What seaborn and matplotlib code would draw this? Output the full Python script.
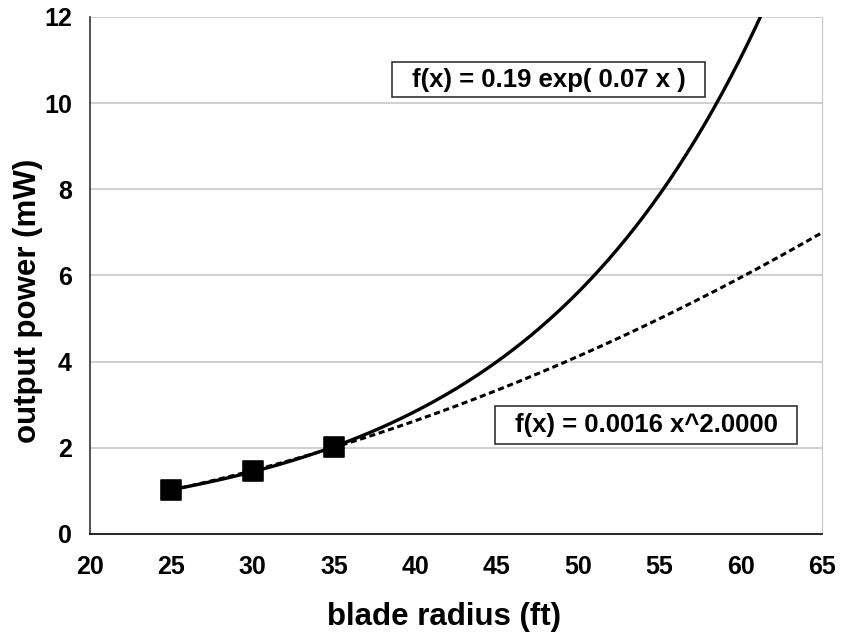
import numpy as np
import pandas as pd
import matplotlib
matplotlib.use("Agg")
import matplotlib.pyplot as plt
from matplotlib.patches import Rectangle
import seaborn as sns

# datos
blade_radius = [25, 30, 35]
output_power = [1.02, 1.47, 2.01]
x_ticks = [20, 25, 30, 35, 40, 45, 50, 55, 60, 65]
y_ticks = [0, 2, 4, 6, 8, 10, 12]
exp_label = "f(x) = 0.19 exp( 0.07 x )"
pow_label = "f(x) = 0.0016 x^2.0000"

sns.set_style("white")
plt.rcParams['font.family'] = ['Liberation Sans', 'DejaVu Sans']
plt.rcParams['font.weight'] = 'bold'
plt.rcParams['text.color'] = 'black'
plt.rcParams['axes.labelcolor'] = 'black'

df = pd.DataFrame({'x': blade_radius, 'y': output_power})

# lineas de tendencia ajustadas a los puntos
b_exp, ln_a = np.polyfit(df['x'], np.log(df['y']), 1)
k_pow, ln_c = np.polyfit(np.log(df['x']), np.log(df['y']), 1)
xs = np.linspace(25, 65, 300)
trend = pd.DataFrame({
    'x': xs,
    'exp': np.exp(ln_a) * np.exp(b_exp * xs),
    'pow': np.exp(ln_c) * xs ** k_pow,
})

fig = plt.figure(figsize=(8.41, 6.36), dpi=100)
ax = fig.add_axes([0.107, 0.1604, 0.8704, 0.8129])

for yv in y_ticks[1:]:
    ax.axhline(yv, color='#c8c8c8', lw=1.2, zorder=0)

sns.lineplot(data=trend, x='x', y='pow', ax=ax, color='black', lw=2.2,
             linestyle=(0, (2, 1.2)), zorder=2)
sns.lineplot(data=trend, x='x', y='exp', ax=ax, color='black', lw=2.4, zorder=3)
sns.scatterplot(data=df, x='x', y='y', ax=ax, marker='s', s=210, color='black',
                edgecolor='black', zorder=4)

ax.set_xlim(20, 65)
ax.set_ylim(0, 12)
ax.set_xticks(x_ticks)
ax.set_yticks(y_ticks)
ax.tick_params(axis='both', labelsize=18, direction='out', length=8, width=1.2,
               color='#333333', labelcolor='black')
ax.tick_params(axis='x', pad=7)
ax.tick_params(axis='y', pad=5)
for lab in ax.get_xticklabels() + ax.get_yticklabels():
    lab.set_fontweight('bold')

ax.set_xlabel("blade radius (ft)", fontsize=22.5, fontweight='bold')
ax.set_ylabel("output power (mW)", fontsize=22.5, fontweight='bold')
ax.xaxis.set_label_coords(0.484, -0.131)
ax.yaxis.set_label_coords(-0.064, 0.45)

ax.spines['top'].set_visible(False)
ax.spines['right'].set_color('#c8c8c8')
ax.spines['left'].set_color('#333333')
ax.spines['bottom'].set_color('black')
ax.spines['left'].set_linewidth(1.2)
ax.spines['bottom'].set_linewidth(1.2)

# cajas de las ecuaciones
ax.add_patch(Rectangle((0.4126, 0.8453), 0.4276, 0.0677, transform=ax.transAxes,
                       facecolor='white', edgecolor='#333333', lw=1.2, zorder=5))
ax.text(0.6264, 0.879, exp_label, transform=ax.transAxes, ha='center', va='center',
        fontsize=18.5, fontweight='bold', color='black', zorder=6)
ax.add_patch(Rectangle((0.5533, 0.174), 0.4126, 0.0735, transform=ax.transAxes,
                       facecolor='white', edgecolor='#333333', lw=1.2, zorder=5))
ax.text(0.7596, 0.2108, pow_label, transform=ax.transAxes, ha='center', va='center',
        fontsize=18.5, fontweight='bold', color='black', zorder=6)

fig.savefig("out.png", dpi=100)
